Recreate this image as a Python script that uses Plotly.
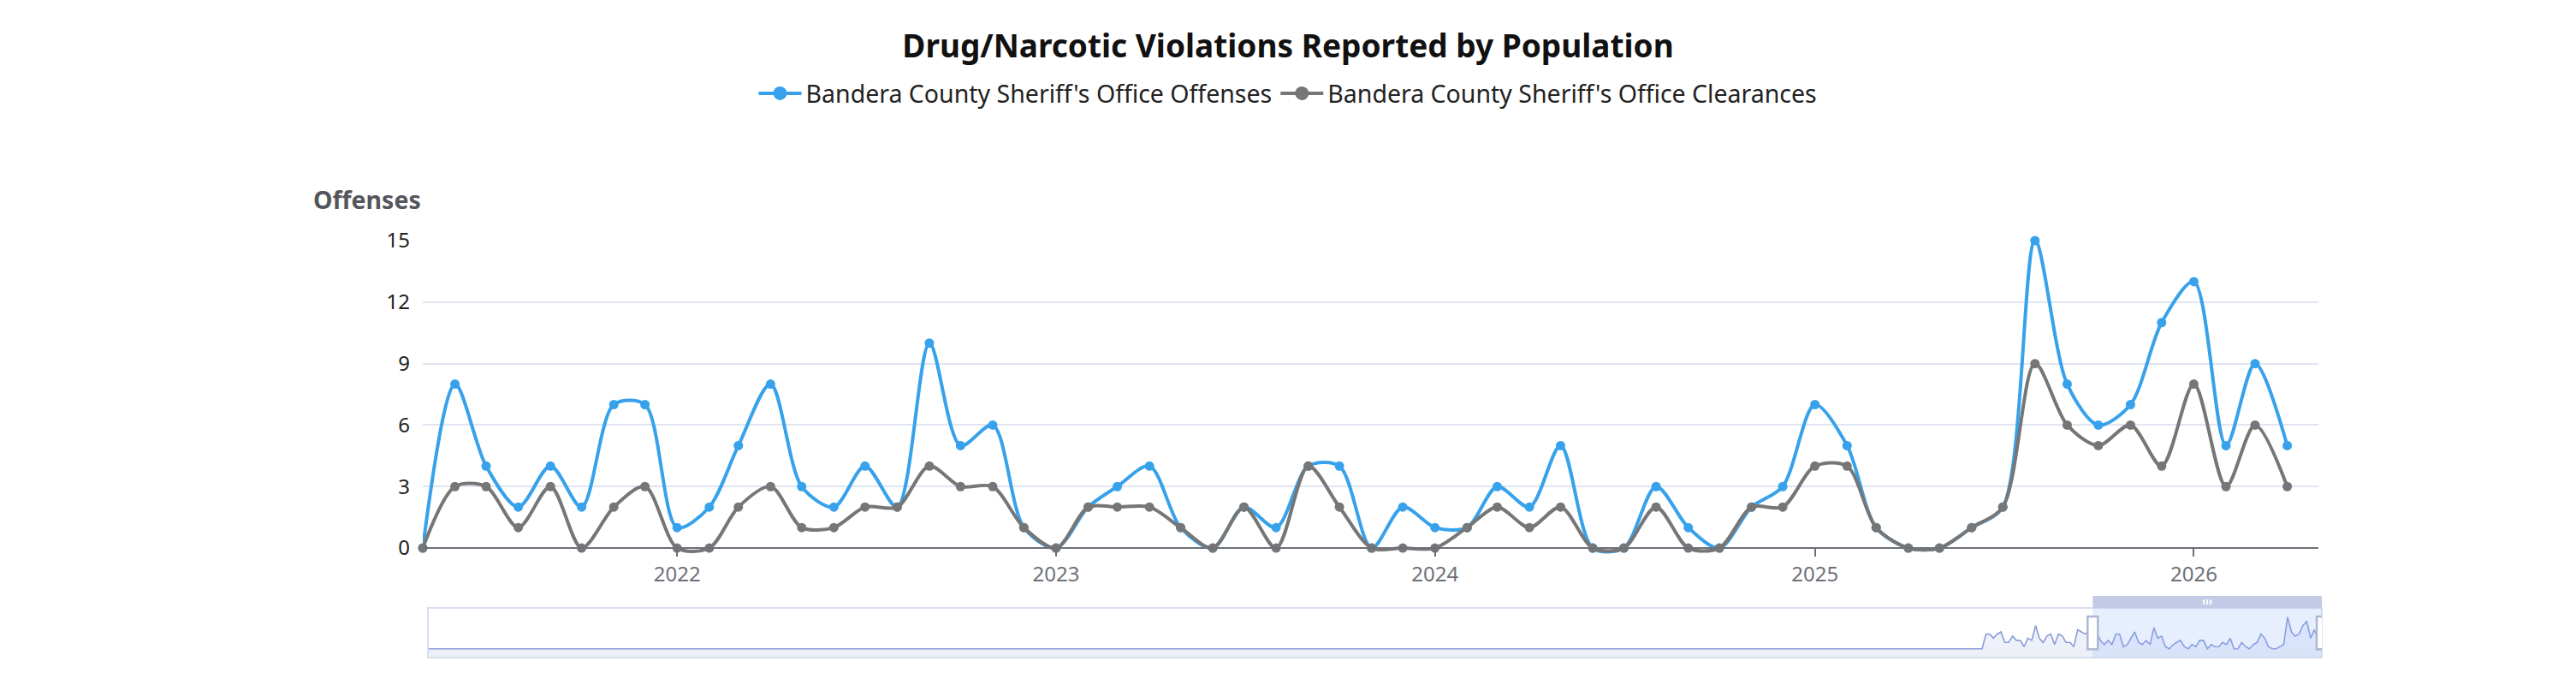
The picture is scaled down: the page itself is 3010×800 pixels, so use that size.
import pandas as pd
import plotly.graph_objects as go

# -- data ---------------------------------------------------------------------
MONTHS = pd.date_range("2021-05-01", "2026-04-01", freq="MS")

OFFENSES = [0, 8, 4, 2, 4, 2, 7, 7,
            1, 2, 5, 8, 3, 2, 4, 2, 10, 5, 6, 1,
            0, 2, 3, 4, 1, 0, 2, 1, 4, 4, 0, 2,
            1, 1, 3, 2, 5, 0, 0, 3, 1, 0, 2, 3,
            7, 5, 1, 0, 0, 1, 2, 15, 8, 6, 7, 11,
            13, 5, 9, 5]

CLEARANCES = [0, 3, 3, 1, 3, 0, 2, 3,
              0, 0, 2, 3, 1, 1, 2, 2, 4, 3, 3, 1,
              0, 2, 2, 2, 1, 0, 2, 0, 4, 2, 0, 0,
              0, 1, 2, 1, 2, 0, 0, 2, 0, 0, 2, 2,
              4, 4, 1, 0, 0, 1, 2, 9, 6, 5, 6, 4,
              8, 3, 6, 3]

# history shown only in the zoom slider (offenses, all zero before 2019)
EARLY_DATES = ["1985-01-01", "2018-12-01"]
EARLY_VALUES = [0, 0]
HIST_MONTHS = pd.date_range("2019-01-01", "2021-04-01", freq="MS")
HIST_OFFENSES = [7, 7, 5, 7, 8, 3, 3, 6, 4, 4, 1, 5, 4, 11,
                 5, 3, 6, 7, 2, 7, 6, 3, 3, 1, 9, 8, 7, 8]

SERIES_NAMES = ["Bandera County Sheriff's Office Offenses",
                "Bandera County Sheriff's Office Clearances"]
TITLE = "Drug/Narcotic Violations Reported by Population"
Y_NAME = "Offenses"

# -- layout constants (pixels, figure sits 8px inside the page) ---------------
W, H = 2994, 784
L, R, T, B = 486, 289, 272.7, 24
PLOT_W = W - L - R
PLOT_H = H - T - B
ZERO_PX = 632                    # y pixel of value 0
PX_PER_UNIT = (ZERO_PX - T) / 15
Y_LOW = -0.7                     # room under the axis so lines at 0 aren't clipped
MAIN_BOTTOM = (H - B - (ZERO_PX - Y_LOW * PX_PER_UNIT)) / PLOT_H
AXIS_POS = (H - B - ZERO_PX) / PLOT_H
SLIDER_TOP = (H - B - 702) / PLOT_H

FONT = "Noto Sans"
BLUE = "#37A2EB"
GREY = "#767676"

VIEW_START, VIEW_END = "2021-05-01", "2026-05-01"

fig = go.Figure()

for name, vals, col in [(SERIES_NAMES[0], OFFENSES, BLUE),
                        (SERIES_NAMES[1], CLEARANCES, GREY)]:
    fig.add_trace(go.Scatter(
        x=MONTHS, y=vals, name=name, mode="lines+markers",
        line=dict(color=col, width=4, shape="spline", smoothing=0.85),
        marker=dict(color=col, size=11),
        cliponaxis=False, showlegend=False,
    ))
    # legend entry with a bigger icon
    fig.add_trace(go.Scatter(
        x=[None], y=[None], name=name, mode="lines+markers",
        line=dict(color=col, width=4), marker=dict(color=col, size=16),
    ))

# slider miniature
mini_x = list(pd.to_datetime(EARLY_DATES)) + list(HIST_MONTHS) + list(MONTHS)
mini_y = EARLY_VALUES + HIST_OFFENSES + OFFENSES
fig.add_trace(go.Scatter(
    x=mini_x, y=mini_y, xaxis="x2", yaxis="y2", mode="lines",
    line=dict(color="rgba(125,145,210,0.9)", width=1.6),
    fill="tozeroy", fillcolor="rgba(160,180,230,0.18)",
    showlegend=False, hoverinfo="skip",
))

fig.update_layout(
    width=W, height=H,
    margin=dict(l=L, r=R, t=T, b=B),
    paper_bgcolor="white", plot_bgcolor="white",
    font=dict(family=FONT, color="#333"),
    title=dict(text=f"<b>{TITLE}</b>", x=(1497) / W, xanchor="center",
               y=1 - 46 / H, yanchor="middle", yref="container",
               font=dict(size=37, color="#111", family=FONT)),
    legend=dict(orientation="h", x=(1497 - L) / PLOT_W, xanchor="center",
                y=(H - B - 101) / PLOT_H, yanchor="middle",
                font=dict(size=28.5, color="#222"), itemwidth=50,
                bgcolor="rgba(0,0,0,0)"),
    xaxis=dict(domain=[0, (2701 - L) / PLOT_W], anchor="free",
               position=AXIS_POS,
               type="date", range=[VIEW_START, VIEW_END],
               tick0="2022-01-01", dtick="M12", tickformat="%Y",
               showgrid=False, zeroline=False,
               showline=True, linecolor="#6E7079", linewidth=2,
               ticks="outside", ticklen=9, tickwidth=2, tickcolor="#6E7079",
               tickfont=dict(size=24, color="#6E7079")),
    yaxis=dict(domain=[MAIN_BOTTOM, 1], anchor="x", range=[Y_LOW, 15],
               tick0=0, dtick=3,
               showgrid=True, gridcolor="#E0E6F1", gridwidth=2,
               zeroline=False, showline=False, ticks="",
               ticklabelstandoff=14,
               tickfont=dict(size=24, color="#222")),
    xaxis2=dict(domain=[(492 - L) / PLOT_W, 1], anchor="y2",
                type="date", range=[EARLY_DATES[0], VIEW_END],
                showgrid=False, zeroline=False, showline=False,
                showticklabels=False, ticks=""),
    yaxis2=dict(domain=[0, SLIDER_TOP], anchor="x2", range=[-4.18, 19.34],
                showgrid=False, zeroline=False, showline=False,
                showticklabels=False, ticks=""),
    annotations=[dict(text=f"<b>{Y_NAME}</b>", xref="paper", yref="paper",
                      x=0, xanchor="right", y=(H - B - 225) / PLOT_H,
                      yanchor="middle", showarrow=False,
                      font=dict(size=28.5, color="#55565c"))],
)

# slider decorations
base_frac = 10.3 / 58
shapes = [
    dict(type="rect", xref="x2 domain", yref="y2 domain", x0=0, x1=1,
         y0=0, y1=base_frac, line=dict(width=0),
         fillcolor="rgba(225,230,242,0.6)", layer="below"),
    dict(type="rect", xref="x2 domain", yref="y2 domain", x0=0, x1=1,
         y0=0, y1=1, line=dict(color="#D9DEF0", width=2)),
    dict(type="rect", xref="x2", yref="y2 domain", x0=VIEW_START, x1=VIEW_END,
         y0=0, y1=1, line=dict(width=0),
         fillcolor="rgba(135,175,255,0.2)"),
    dict(type="rect", xref="x2", yref="y2 domain", x0=VIEW_START, x1=VIEW_END,
         y0=1, y1=1.24, line=dict(width=0), fillcolor="#C3CAE6"),
]
for edge in [VIEW_START, VIEW_END]:
    shapes.append(dict(type="rect", xref="x2", yref="y2 domain",
                       xsizemode="pixel", xanchor=edge, x0=-6, x1=6,
                       y0=0.17, y1=0.83, fillcolor="white",
                       line=dict(color="#ACB8D1", width=2.5)))
mid = pd.Timestamp(VIEW_START) + (pd.Timestamp(VIEW_END) - pd.Timestamp(VIEW_START)) / 2
for dx in [-4, 0, 4]:
    shapes.append(dict(type="line", xref="x2", yref="y2 domain",
                       xsizemode="pixel", xanchor=mid, x0=dx, x1=dx,
                       y0=1.07, y1=1.17, line=dict(color="white", width=2)))
fig.update_layout(shapes=shapes)

fig.write_html("out.html")
